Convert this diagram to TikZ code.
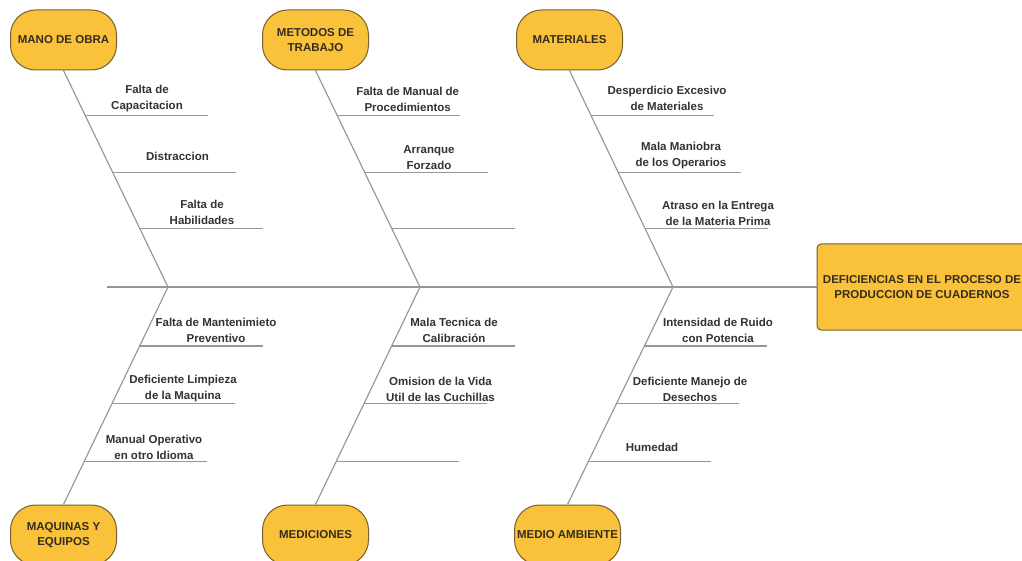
\documentclass[tikz,border=0pt]{standalone}
\usepackage{fontspec}
\setmainfont{Liberation Sans}
\usetikzlibrary{calc}
\definecolor{boxfill}{HTML}{FAC13A}
\definecolor{boxline}{HTML}{74612F}
\definecolor{bonegray}{HTML}{979797}
\definecolor{inktext}{HTML}{333333}
\definecolor{boxtext}{HTML}{352D1E}
\tikzset{
  category/.style={draw=boxline, line width=1pt, fill=boxfill, rounded corners=25pt,
    minimum width=106pt, minimum height=60pt, inner sep=1pt, align=center,
    text=boxtext, font=\fontsize{11.5}{14.5}\selectfont\bfseries},
  effect/.style={draw=boxline, line width=1pt, fill=boxfill, rounded corners=4pt,
    minimum width=210pt, minimum height=86pt, align=center,
    text=boxtext, font=\fontsize{11.5}{14.5}\selectfont\bfseries},
  bone/.style={draw=bonegray, line width=1.15pt},
  cause/.style={align=center, text=inktext, inner sep=0pt,
    font=\fontsize{11.5}{16}\selectfont\bfseries},
}
\begin{document}
\begin{tikzpicture}[x=1pt, y=-1pt]
\clip (0,0) rectangle (1022,561);
\fill[white] (0,0) rectangle (1022,561);

% effect head
\node[effect] (eff) at (922,287) {DEFICIENCIAS EN EL PROCESO DE\\PRODUCCION DE CUADERNOS};

% category boxes
\node[category] (mo)   at (63.5,40)   {MANO DE OBRA};
\node[category] (mt)   at (315.5,40)  {METODOS DE\\TRABAJO};
\node[category] (ma)   at (569.5,40)  {MATERIALES};
\node[category] (mq)   at (63.5,535)  {MAQUINAS Y\\EQUIPOS};
\node[category] (me)   at (315.5,535) {MEDICIONES};
\node[category] (mamb) at (567.5,535) {MEDIO AMBIENTE};

% spine and junctions
\coordinate (s0) at (107,287);
\coordinate (j1) at (168,287);
\coordinate (j2) at (420,287);
\coordinate (j3) at (673,287);
\draw[bone] (s0) -- (eff.west);

% main bones
\draw[bone] (mo.south) -- (j1);
\draw[bone] (mt.south) -- (j2);
\draw[bone] (ma.south) -- (j3);
\draw[bone] (j1) -- (mq.north);
\draw[bone] (j2) -- (me.north);
\draw[bone] (j3) -- (mamb.north);

% ribs on the upper bones
\foreach \b/\j in {mo/j1, mt/j2, ma/j3}{
  \foreach \t in {0.207, 0.470, 0.728}{
    \draw[bone] ($(\b.south)!\t!(\j)$) -- +(123,0);
  }
}
% ribs on the lower bones
\foreach \b/\j in {mq/j1, me/j2, mamb/j3}{
  \foreach \t in {0.271, 0.537, 0.803}{
    \draw[bone] ($(\j)!\t!(\b.north)$) -- +(123,0);
  }
}

% causes: MANO DE OBRA
\node[cause] (c11) at (147,99)    {Falta de\\Capacitacion};
\node[cause] (c12) at (177.5,156) {Distraccion};
\node[cause] (c13) at (202,212.5) {Falta de\\Habilidades};
% causes: METODOS DE TRABAJO
\node[cause] (c21) at (407.7,99)  {Falta de Manual de\\Procedimientos};
\node[cause] (c22) at (429,157.5) {Arranque\\Forzado};
% causes: MATERIALES
\node[cause] (c31) at (667,98)    {Desperdicio Excesivo\\de Materiales};
\node[cause] (c32) at (681,156)   {Mala Maniobra\\de los Operarios};
\node[cause] (c33) at (718,213)   {Atraso en la Entrega\\de la Materia Prima};
% causes: MAQUINAS Y EQUIPOS
\node[cause] (c41) at (216,330)   {Falta de Mantenimieto\\Preventivo};
\node[cause] (c42) at (183,389)   {Deficiente Limpieza\\de la Maquina};
\node[cause] (c43) at (154,447)   {Manual Operativo\\en otro Idioma};
% causes: MEDICIONES
\node[cause] (c51) at (454,330.5) {Mala Tecnica de\\Calibración};
\node[cause] (c52) at (440.5,389) {Omision de la Vida\\Util de las Cuchillas};
% causes: MEDIO AMBIENTE
\node[cause] (c61) at (718,330.5) {Intensidad de Ruido\\con Potencia};
\node[cause] (c62) at (690,389)   {Deficiente Manejo de\\Desechos};
\node[cause] (c63) at (652,447)   {Humedad};
\end{tikzpicture}
\end{document}
